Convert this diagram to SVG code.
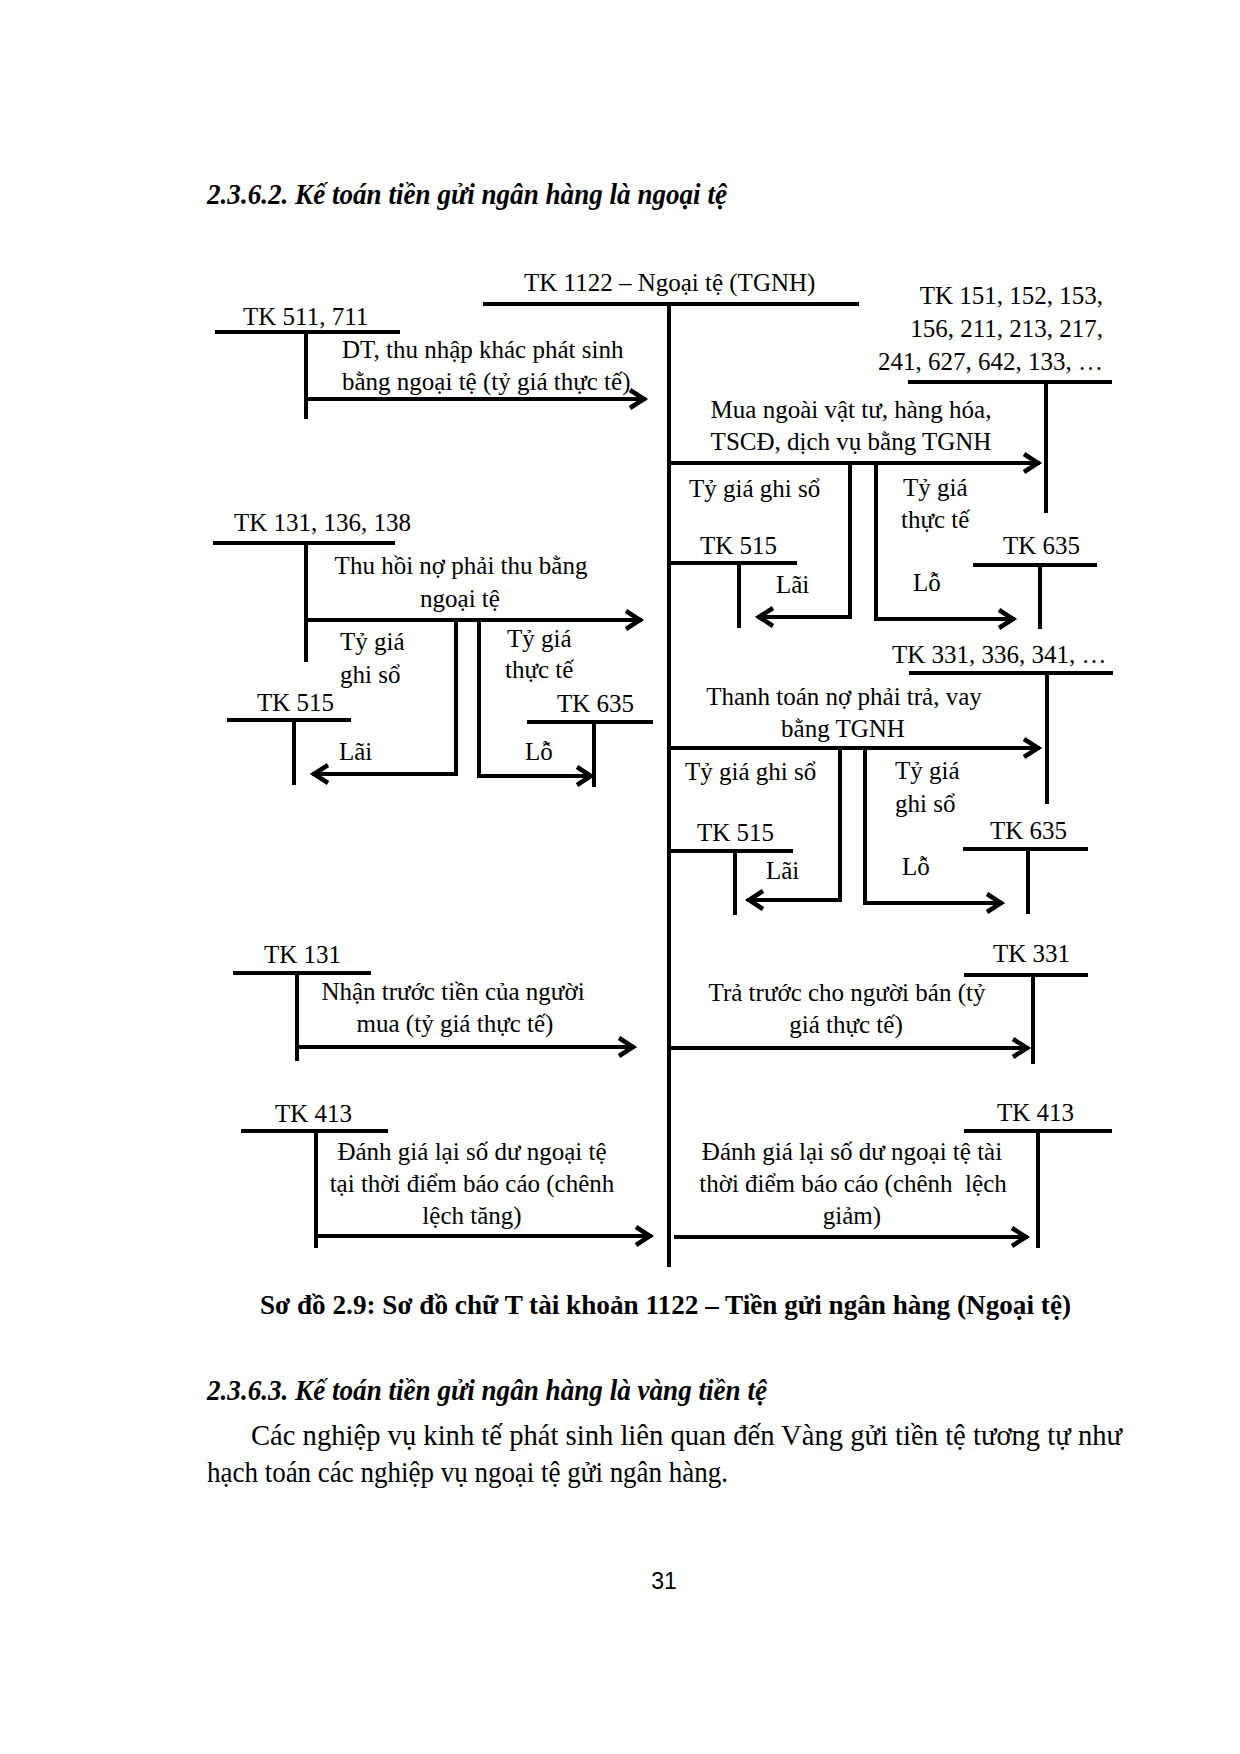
<svg xmlns="http://www.w3.org/2000/svg" width="1240" height="1754" viewBox="0 0 1240 1754">
<defs>
<style>
text{font-family:"Liberation Serif","DejaVu Serif",serif;fill:#000}
.t{font-size:25px}
.c{text-anchor:middle}
.e{text-anchor:end}
.h{font-size:30px;font-weight:bold;font-style:italic}
.cap{font-size:28px;font-weight:bold}
.body{font-size:29px}
.pg{font-family:"Liberation Sans","DejaVu Sans",sans-serif;font-size:23px}
.ln{stroke:#000;stroke-width:4;fill:none}
.ar{stroke:#000;stroke-width:4;fill:none;stroke-linejoin:miter;marker-end:url(#ah)}
</style>
<marker id="ah" markerUnits="userSpaceOnUse" markerWidth="30" markerHeight="30" viewBox="-20 -15 30 30" refX="0" refY="0" orient="auto" overflow="visible">
<path d="M-16,-9 L-2,0 L-16,9" fill="none" stroke="#000" stroke-width="4.5"/>
</marker>
</defs>
<rect width="1240" height="1754" fill="#fff"/>

<text class="h" x="207" y="204" textLength="520" lengthAdjust="spacingAndGlyphs">2.3.6.2. Kế toán tiền gửi ngân hàng là ngoại tệ</text>

<g id="tk1122">
<text class="t" x="524" y="291">TK 1122 – Ngoại tệ (TGNH)</text>
<path class="ln" d="M483,304 H859 M669,304 V1267"/>
</g>

<g id="tk511">
<text class="t" x="243" y="325">TK 511, 711</text>
<path class="ln" d="M215,332 H400 M306,332 V419"/>
</g>

<g id="tk151">
<text class="t e" x="1103" y="304">TK 151, 152, 153,</text>
<text class="t e" x="1103" y="337">156, 211, 213, 217,</text>
<text class="t e" x="1103" y="370">241, 627, 642, 133, …</text>
<path class="ln" d="M908,382 H1112 M1046,382 V513"/>
</g>

<g id="tk515a">
<text class="t" x="700" y="554">TK 515</text>
<path class="ln" d="M669,563 H797 M739,563 V628"/>
</g>

<g id="tk635a">
<text class="t" x="1003" y="554">TK 635</text>
<path class="ln" d="M973,565 H1097 M1040,565 V629"/>
</g>

<g id="tk131_136_138">
<text class="t" x="234" y="531">TK 131, 136, 138</text>
<path class="ln" d="M213,543 H395 M306,543 V662"/>
</g>

<g id="tk515b">
<text class="t" x="257" y="711">TK 515</text>
<path class="ln" d="M227,720 H351 M294,720 V785"/>
</g>

<g id="tk635b">
<text class="t" x="557" y="712">TK 635</text>
<path class="ln" d="M527,722 H653 M594,722 V787"/>
</g>

<g id="tk331_336_341">
<text class="t" x="892" y="663">TK 331, 336, 341, …</text>
<path class="ln" d="M909,673 H1113 M1047,673 V804"/>
</g>

<g id="tk515c">
<text class="t" x="697" y="841">TK 515</text>
<path class="ln" d="M669,851 H793 M735,851 V915"/>
</g>

<g id="tk635c">
<text class="t" x="990" y="839">TK 635</text>
<path class="ln" d="M963,849 H1088 M1028,849 V914"/>
</g>

<g id="tk131">
<text class="t" x="264" y="963">TK 131</text>
<path class="ln" d="M233,973 H371 M297,973 V1061"/>
</g>

<g id="tk331">
<text class="t" x="993" y="962">TK 331</text>
<path class="ln" d="M964,975 H1088 M1033,975 V1064"/>
</g>

<g id="tk413a">
<text class="t" x="275" y="1122">TK 413</text>
<path class="ln" d="M241,1131 H388 M316,1131 V1248"/>
</g>

<g id="tk413b">
<text class="t" x="997" y="1121">TK 413</text>
<path class="ln" d="M964,1131 H1112 M1038,1131 V1248"/>
</g>

<g id="connectors">
<path class="ar" d="M306,399 H646"/>
<path class="ar" d="M669,463 H1040"/>
<path class="ar" d="M850,463 V617 H757"/>
<path class="ar" d="M876,463 V619 H1015"/>
<path class="ar" d="M306,620 H642"/>
<path class="ar" d="M456,620 V774 H312"/>
<path class="ar" d="M479,620 V776 H593"/>
<path class="ar" d="M669,748 H1040"/>
<path class="ar" d="M840,748 V900 H747"/>
<path class="ar" d="M865,748 V903 H1003"/>
<path class="ar" d="M297,1047 H635"/>
<path class="ar" d="M669,1048 H1029"/>
<path class="ar" d="M316,1236 H652"/>
<path class="ar" d="M674,1237 H1028"/>
</g>

<g id="labels">
<text class="t" x="342" y="358">DT, thu nhập khác phát sinh</text>
<text class="t" x="342" y="390">bằng ngoại tệ (tỷ giá thực tế)</text>

<text class="t c" x="851" y="418">Mua ngoài vật tư, hàng hóa,</text>
<text class="t c" x="851" y="450">TSCĐ, dịch vụ bằng TGNH</text>
<text class="t" x="689" y="497">Tỷ giá ghi sổ</text>
<text class="t" x="903" y="496">Tỷ giá</text>
<text class="t" x="901" y="528">thực tế</text>
<text class="t" x="776" y="593">Lãi</text>
<text class="t" x="913" y="591">Lỗ</text>

<text class="t c" x="461" y="574">Thu hồi nợ phải thu bằng</text>
<text class="t c" x="460" y="607">ngoại tệ</text>
<text class="t" x="340" y="650">Tỷ giá</text>
<text class="t" x="340" y="683">ghi sổ</text>
<text class="t" x="507" y="647">Tỷ giá</text>
<text class="t" x="505" y="678">thực tế</text>
<text class="t" x="339" y="760">Lãi</text>
<text class="t" x="525" y="760">Lỗ</text>

<text class="t c" x="844" y="705">Thanh toán nợ phải trả, vay</text>
<text class="t c" x="843" y="737">bằng TGNH</text>
<text class="t" x="685" y="780">Tỷ giá ghi sổ</text>
<text class="t" x="895" y="779">Tỷ giá</text>
<text class="t" x="895" y="812">ghi sổ</text>
<text class="t" x="766" y="879">Lãi</text>
<text class="t" x="902" y="875">Lỗ</text>

<text class="t c" x="453" y="1000">Nhận trước tiền của người</text>
<text class="t c" x="455" y="1032">mua (tỷ giá thực tế)</text>

<text class="t c" x="847" y="1001">Trả trước cho người bán (tỷ</text>
<text class="t c" x="846" y="1033">giá thực tế)</text>

<text class="t c" x="472" y="1160">Đánh giá lại số dư ngoại tệ</text>
<text class="t c" x="472" y="1192">tại thời điểm báo cáo (chênh</text>
<text class="t c" x="472" y="1224">lệch tăng)</text>

<text class="t c" x="852" y="1160">Đánh giá lại số dư ngoại tệ tài</text>
<text class="t c" x="853" y="1192" style="white-space:pre">thời điểm báo cáo (chênh  lệch</text>
<text class="t c" x="852" y="1224">giảm)</text>
</g>

<text class="cap" x="260" y="1314" textLength="811" lengthAdjust="spacingAndGlyphs">Sơ đồ 2.9: Sơ đồ chữ T tài khoản 1122 – Tiền gửi ngân hàng (Ngoại tệ)</text>

<text class="h" x="207" y="1400" textLength="560" lengthAdjust="spacingAndGlyphs">2.3.6.3. Kế toán tiền gửi ngân hàng là vàng tiền tệ</text>
<text class="body" x="251" y="1445" textLength="871" lengthAdjust="spacingAndGlyphs">Các nghiệp vụ kinh tế phát sinh liên quan đến Vàng gửi tiền tệ tương tự như</text>
<text class="body" x="207" y="1482" textLength="521" lengthAdjust="spacingAndGlyphs">hạch toán các nghiệp vụ ngoại tệ gửi ngân hàng.</text>

<text class="pg c" x="664" y="1589">31</text>
</svg>
